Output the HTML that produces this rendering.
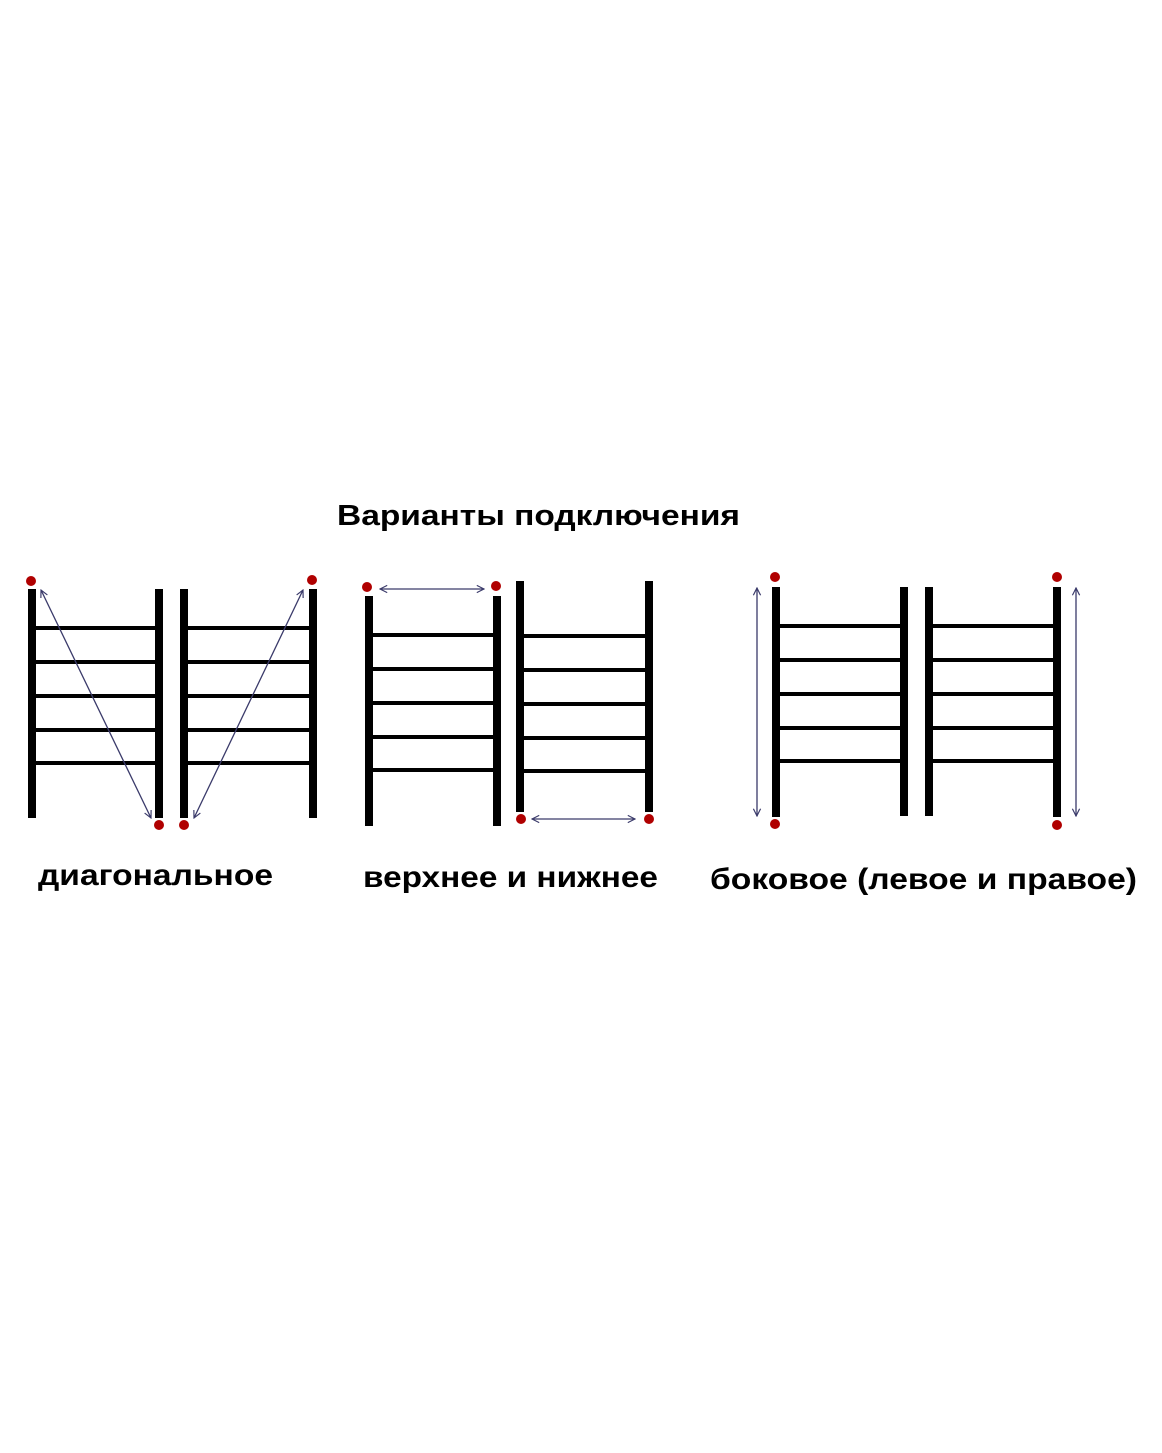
<!DOCTYPE html>
<html><head><meta charset="utf-8"><style>html,body{margin:0;padding:0;background:#fff}svg{display:block}</style></head>
<body>
<svg width="1162" height="1453" viewBox="0 0 1162 1453" xmlns="http://www.w3.org/2000/svg">
<defs>
<marker id="a" viewBox="0 0 10 10" refX="9" refY="5" markerWidth="9" markerHeight="9" orient="auto-start-reverse" markerUnits="userSpaceOnUse"><path d="M1,1 L9,5 L1,9" fill="none" stroke="#3a3a6a" stroke-width="1.3"/></marker>
</defs>
<g font-family="Liberation Sans, Arial, sans-serif" font-weight="bold" fill="#000">
<text x="337" y="525" font-size="29" textLength="403" lengthAdjust="spacingAndGlyphs">Варианты подключения</text>
<text x="38" y="885" font-size="30" textLength="235" lengthAdjust="spacingAndGlyphs">диагональное</text>
<text x="363" y="887" font-size="30" textLength="295" lengthAdjust="spacingAndGlyphs">верхнее и нижнее</text>
<text x="710" y="889" font-size="30" textLength="427" lengthAdjust="spacingAndGlyphs">боковое (левое и правое)</text>
</g>
<g fill="#000">
<!-- diagram 1 -->
<rect x="28" y="589" width="8" height="229"/><rect x="155" y="589" width="8" height="229"/>
<rect x="180" y="589" width="8" height="229"/><rect x="309" y="589" width="8" height="229"/>
<rect x="36" y="626" width="119" height="4"/><rect x="36" y="660" width="119" height="4"/><rect x="36" y="694" width="119" height="4"/><rect x="36" y="728" width="119" height="4"/><rect x="36" y="761" width="119" height="4"/>
<rect x="188" y="626" width="121" height="4"/><rect x="188" y="660" width="121" height="4"/><rect x="188" y="694" width="121" height="4"/><rect x="188" y="728" width="121" height="4"/><rect x="188" y="761" width="121" height="4"/>
<!-- diagram 2 -->
<rect x="365" y="596" width="8" height="230"/><rect x="493" y="596" width="8" height="230"/>
<rect x="516" y="581" width="8" height="231"/><rect x="645" y="581" width="8" height="231"/>
<rect x="373" y="633" width="120" height="4"/><rect x="373" y="667" width="120" height="4"/><rect x="373" y="701" width="120" height="4"/><rect x="373" y="735" width="120" height="4"/><rect x="373" y="768" width="120" height="4"/>
<rect x="524" y="634" width="121" height="4"/><rect x="524" y="668" width="121" height="4"/><rect x="524" y="702" width="121" height="4"/><rect x="524" y="736" width="121" height="4"/><rect x="524" y="769" width="121" height="4"/>
<!-- diagram 3 -->
<rect x="772" y="587" width="8" height="230"/><rect x="900" y="587" width="8" height="229"/>
<rect x="925" y="587" width="8" height="229"/><rect x="1053" y="587" width="8" height="230"/>
<rect x="780" y="624" width="120" height="4"/><rect x="780" y="658" width="120" height="4"/><rect x="780" y="692" width="120" height="4"/><rect x="780" y="726" width="120" height="4"/><rect x="780" y="759" width="120" height="4"/>
<rect x="933" y="624" width="120" height="4"/><rect x="933" y="658" width="120" height="4"/><rect x="933" y="692" width="120" height="4"/><rect x="933" y="726" width="120" height="4"/><rect x="933" y="759" width="120" height="4"/>
</g>
<g stroke="#3a3a6a" stroke-width="1.3" fill="none" marker-start="url(#a)" marker-end="url(#a)">
<line x1="41" y1="590" x2="151" y2="818"/>
<line x1="194" y1="818" x2="303" y2="590"/>
<line x1="380" y1="589" x2="484" y2="589"/>
<line x1="532" y1="819" x2="635" y2="819"/>
<line x1="757" y1="588" x2="757" y2="816"/>
<line x1="1076" y1="588" x2="1076" y2="816"/>
</g>
<g fill="#b00000">
<circle cx="31" cy="581" r="5"/><circle cx="159" cy="825" r="5"/><circle cx="184" cy="825" r="5"/><circle cx="312" cy="580" r="5"/>
<circle cx="367" cy="587" r="5"/><circle cx="496" cy="586" r="5"/><circle cx="521" cy="819" r="5"/><circle cx="649" cy="819" r="5"/>
<circle cx="775" cy="577" r="5"/><circle cx="775" cy="824" r="5"/><circle cx="1057" cy="577" r="5"/><circle cx="1057" cy="825" r="5"/>
</g>
</svg>
</body></html>
